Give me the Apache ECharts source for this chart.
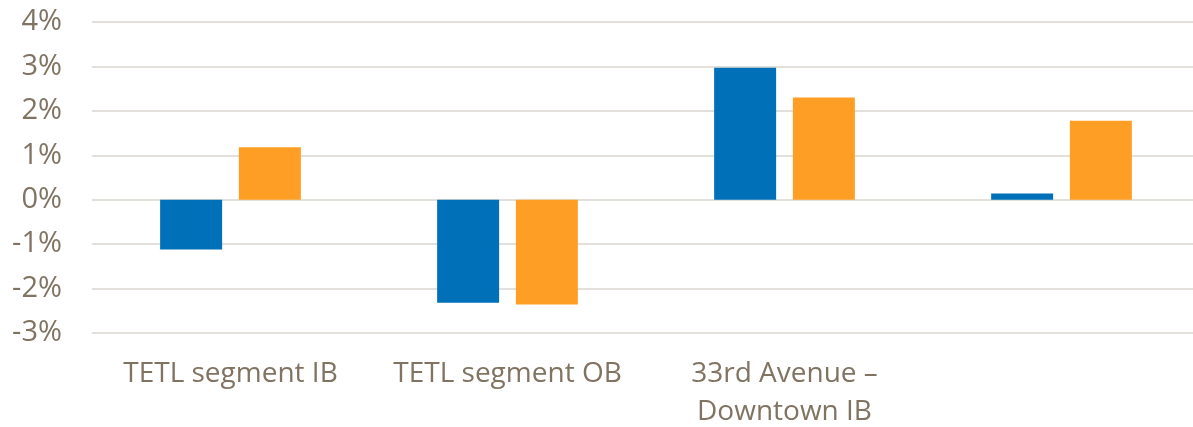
<!DOCTYPE html>
<html>
<head>
<meta charset="utf-8">
<script src="https://cdn.jsdelivr.net/npm/echarts@6/dist/echarts.min.js"></script>
<style>
    html, body { margin: 0; padding: 0; background: #fff; }
    #chart { width: 1193px; height: 427px; }
</style>
</head>
<body>
<div id="chart"></div>
<script>
    // categories (fourth one has no label in the source)
    const categories = ['TETL segment IB', 'TETL segment OB', '33rd Avenue –\nDowntown IB', ''];
    const blueValues = [-1.12, -2.32, 2.97, 0.14];
    const orangeValues = [1.18, -2.36, 2.3, 1.78];
    const yTicks = [-3, -2, -1, 0, 1, 2, 3, 4];

    let chart = echarts.init(document.getElementById('chart'));
    let textColor = '#807362';
    let option = {
        animation: false,
        grid: {
            left: 92,
            top: 22,
            width: 1108,
            height: 311,
            outerBoundsMode: 'none',
            containLabel: false
        },
        xAxis: {
            type: 'category',
            data: categories,
            axisLine: { show: false },
            axisTick: { show: false },
            axisLabel: {
                interval: 0,
                hideOverlap: false,
                color: textColor,
                fontFamily: 'Open Sans',
                fontSize: 28,
                lineHeight: 38,
                margin: 22,
                verticalAlign: 'top'
            }
        },
        yAxis: {
            type: 'value',
            min: yTicks[0],
            max: yTicks[yTicks.length - 1],
            interval: 1,
            axisLine: { show: false },
            axisTick: { show: false },
            splitLine: {
                lineStyle: { color: '#E3DFDA', width: 2 }
            },
            axisLabel: {
                color: textColor,
                fontFamily: 'Open Sans',
                fontSize: 29,
                margin: 30,
                formatter: v => v + '%'
            }
        },
        series: [
            {
                name: 'blue',
                type: 'bar',
                data: blueValues,
                barWidth: 62,
                barGap: '27%',
                itemStyle: { color: '#0071B9' }
            },
            {
                name: 'orange',
                type: 'bar',
                data: orangeValues,
                barWidth: 62,
                itemStyle: { color: '#FF9E24' }
            }
        ]
    };
    chart.setOption(option);
    window.addEventListener("resize", function () {
        chart.resize();
    });
</script>
</body>
</html>
